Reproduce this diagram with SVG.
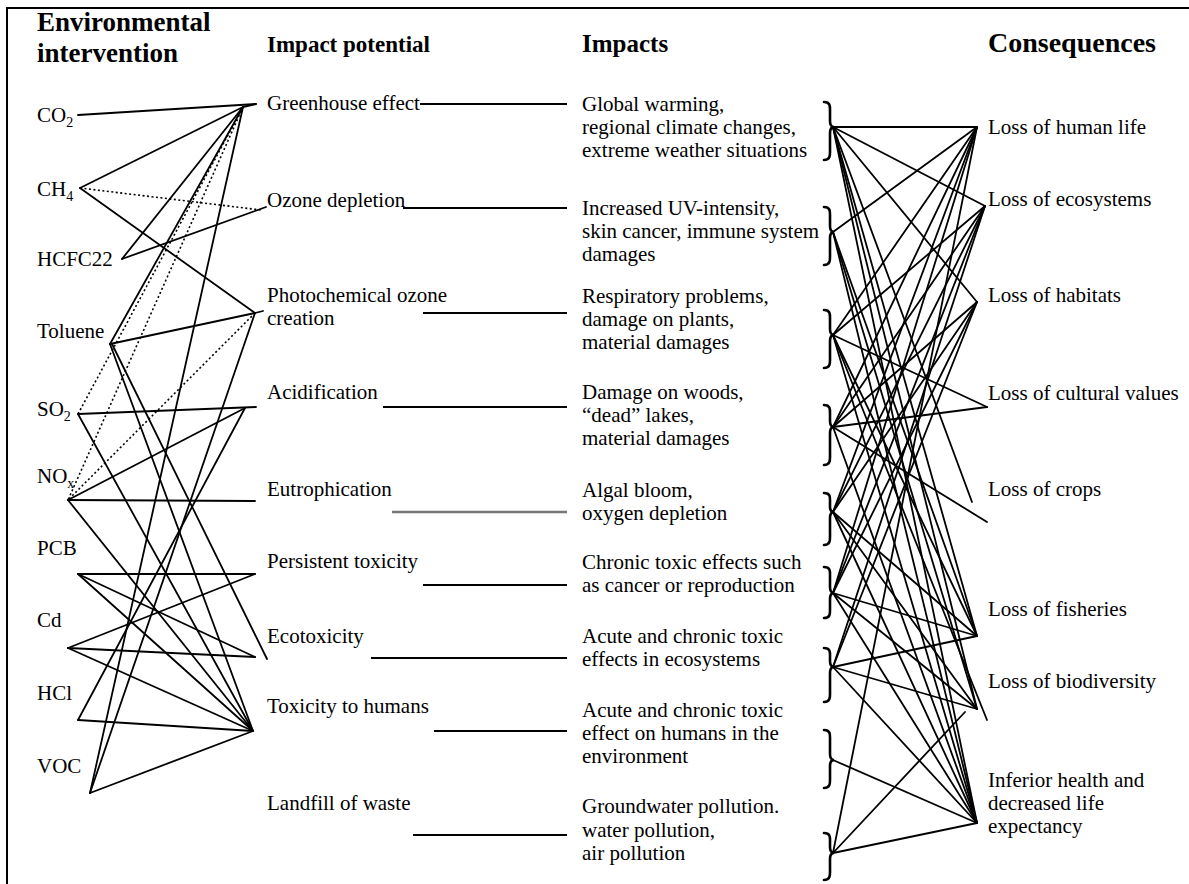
<svg xmlns="http://www.w3.org/2000/svg" width="1189" height="884" viewBox="0 0 1189 884">
  <style>
    text { font-family: "Liberation Serif", "Times New Roman", serif; font-size: 21px; fill: #000; }
    .hd { font-weight: bold; font-size: 23px; }
    .hd-big { font-size: 27px; }
    .sub { font-size: 14px; }
    .ln { stroke: #000; stroke-width: 1.8; fill: none; stroke-linecap: round; }
    .dot { stroke: #000; stroke-width: 1.6; fill: none; stroke-dasharray: 2 2.5; }
    .bar { stroke: #000; stroke-width: 2; fill: none; }
    .bar-grey { stroke: #777; stroke-width: 2.4; fill: none; }
    .brace { stroke: #000; stroke-width: 2.6; fill: none; stroke-linecap: round; }
  </style>
  <rect width="1189" height="884" fill="#fff"/>
  <!-- frame -->
  <path d="M7,884 V8 H1189" stroke="#000" stroke-width="2" fill="none"/>

  <!-- column headings -->
  <g id="headings">
    <text class="hd hd-big" x="37" y="31">Environmental</text>
    <text class="hd hd-big" x="37" y="62">intervention</text>
    <text class="hd" x="267" y="52">Impact potential</text>
    <text class="hd" x="582" y="52" style="font-size:25px">Impacts</text>
    <text class="hd" x="988" y="52" style="font-size:28px">Consequences</text>
  </g>

  <!-- environmental interventions -->
  <g id="interventions">
    <g id="n-co2"><text x="37" y="122">CO<tspan class="sub" dy="5">2</tspan></text></g>
    <g id="n-ch4"><text x="37" y="196">CH<tspan class="sub" dy="5">4</tspan></text></g>
    <g id="n-hcfc22"><text x="37" y="266">HCFC22</text></g>
    <g id="n-toluene"><text x="37" y="338">Toluene</text></g>
    <g id="n-so2"><text x="37" y="416">SO<tspan class="sub" dy="5">2</tspan></text></g>
    <g id="n-nox"><text x="37" y="483">NO<tspan class="sub" dy="5">x</tspan></text></g>
    <g id="n-pcb"><text x="37" y="555">PCB</text></g>
    <g id="n-cd"><text x="37" y="627">Cd</text></g>
    <g id="n-hcl"><text x="37" y="700">HCl</text></g>
    <g id="n-voc"><text x="37" y="773">VOC</text></g>
  </g>

  <!-- impact potentials -->
  <g id="potentials">
    <g id="p-greenhouse"><text x="267" y="110">Greenhouse effect</text></g>
    <g id="p-ozone"><text x="267" y="207">Ozone depletion</text></g>
    <g id="p-photochem"><text x="267" y="302">Photochemical ozone</text><text x="267" y="325">creation</text></g>
    <g id="p-acid"><text x="267" y="399">Acidification</text></g>
    <g id="p-eutro"><text x="267" y="496">Eutrophication</text></g>
    <g id="p-persist"><text x="267" y="568">Persistent toxicity</text></g>
    <g id="p-ecotox"><text x="267" y="643">Ecotoxicity</text></g>
    <g id="p-humantox"><text x="267" y="713">Toxicity to humans</text></g>
    <g id="p-landfill"><text x="267" y="810">Landfill of waste</text></g>
  </g>

  <!-- impacts -->
  <g id="impacts">
    <g id="i-warming"><text x="582" y="111">Global warming,</text><text x="582" y="134">regional climate changes,</text><text x="582" y="157">extreme weather situations</text></g>
    <g id="i-uv"><text x="582" y="215">Increased UV-intensity,</text><text x="582" y="238">skin cancer, immune system</text><text x="582" y="261">damages</text></g>
    <g id="i-resp"><text x="582" y="303">Respiratory problems,</text><text x="582" y="326">damage on plants,</text><text x="582" y="349">material damages</text></g>
    <g id="i-woods"><text x="582" y="399">Damage on woods,</text><text x="582" y="422">“dead” lakes,</text><text x="582" y="445">material damages</text></g>
    <g id="i-algal"><text x="582" y="497">Algal bloom,</text><text x="582" y="520">oxygen depletion</text></g>
    <g id="i-chronic"><text x="582" y="569">Chronic toxic effects such</text><text x="582" y="592">as cancer or reproduction</text></g>
    <g id="i-eco"><text x="582" y="643">Acute and chronic toxic</text><text x="582" y="666">effects in ecosystems</text></g>
    <g id="i-human"><text x="582" y="717">Acute and chronic toxic</text><text x="582" y="740">effect on humans in the</text><text x="582" y="763">environment</text></g>
    <g id="i-water"><text x="582" y="813">Groundwater pollution.</text><text x="582" y="837">water pollution,</text><text x="582" y="860">air pollution</text></g>
  </g>

  <!-- consequences -->
  <g id="consequences">
    <g id="c-life"><text x="988" y="134">Loss of human life</text></g>
    <g id="c-eco"><text x="988" y="206">Loss of ecosystems</text></g>
    <g id="c-habitat"><text x="988" y="302">Loss of habitats</text></g>
    <g id="c-culture"><text x="988" y="400">Loss of cultural values</text></g>
    <g id="c-crops"><text x="988" y="496">Loss of crops</text></g>
    <g id="c-fish"><text x="988" y="616">Loss of fisheries</text></g>
    <g id="c-biodiv"><text x="988" y="688">Loss of biodiversity</text></g>
    <g id="c-health"><text x="988" y="787">Inferior health and</text><text x="988" y="810">decreased life</text><text x="988" y="833">expectancy</text></g>
  </g>

  <!-- braces grouping each impact -->
  <g id="braces" class="brace">
    <path d="M824,102 C831,102 830,107 830,113 L830,121 C830,125 831,127 834,127 C831,127 830,129 830,133 L830,148 C830,154 831,160 824,160"/>
    <path d="M824,207 C831,207 830,212 830,218 L830,226 C830,230 831,232 834,232 C831,232 830,234 830,238 L830,253 C830,259 831,265 824,265"/>
    <path d="M824,310 C831,310 830,315 830,321 L830,329 C830,333 831,335 834,335 C831,335 830,337 830,341 L830,356 C830,362 831,368 824,368"/>
    <path d="M824,405 C831,405 830,410 830,416 L830,421 C830,425 831,427 834,427 C831,427 830,429 830,433 L830,453 C830,459 831,465 824,465"/>
    <path d="M824,493 C831,493 830,498 830,503 L830,507 C830,510 831,512 834,512 C831,512 830,514 830,518 L830,533 C830,539 831,545 824,545"/>
    <path d="M824,567 C831,567 830,572 830,577 L830,587 C830,591 831,593 834,593 C831,593 830,595 830,599 L830,607 C830,613 831,618 824,618"/>
    <path d="M824,648 C831,648 830,653 830,658 L830,661 C830,665 831,667 834,667 C831,667 830,669 830,673 L830,690 C830,696 831,702 824,702"/>
    <path d="M824,730 C831,730 830,735 830,741 L830,754 C830,758 831,760 834,760 C831,760 830,762 830,766 L830,776 C830,782 831,788 824,788"/>
    <path d="M824,833 C831,833 830,838 830,843 L830,847 C830,851 831,853 834,853 C831,853 830,855 830,859 L830,868 C830,874 831,880 824,880"/>
  </g>

  <g id="connectors">
    <!-- interventions to impact potentials -->
    <g class="ln">
      <path d="M78,115 L256,104"/>
      <path d="M243,107 L256,104"/>
      <path d="M80,188 L243,107"/>
      <path d="M80,188 L255,313"/>
      <path d="M122,259 L243,107"/>
      <path d="M122,259 L266,207"/>
      <path d="M110,344 L243,107"/>
      <path d="M110,344 L255,313"/>
      <path d="M255,313 L263,311"/>
      <path d="M110,344 L253,731"/>
      <path d="M112,344 L267,659"/>
      <path d="M78,414 L256,407"/>
      <path d="M78,414 L253,731"/>
      <path d="M68,500 L255,501"/>
      <path d="M68,500 L245,408"/>
      <path d="M68,500 L253,731"/>
      <path d="M78,574 L255,574"/>
      <path d="M78,574 L255,657"/>
      <path d="M78,574 L253,731"/>
      <path d="M68,648 L255,574"/>
      <path d="M68,648 L255,657"/>
      <path d="M68,648 L253,731"/>
      <path d="M78,720 L245,408"/>
      <path d="M78,720 L253,731"/>
      <path d="M90,793 L243,107"/>
      <path d="M90,793 L255,313"/>
      <path d="M90,793 L253,731"/>
    </g>
    <g class="dot">
      <path d="M80,188 L261,210"/>
      <path d="M243,107 L78,414"/>
      <path d="M243,107 L68,500"/>
      <path d="M255,313 L68,500"/>
    </g>

    <!-- impact potentials to impacts -->
    <path class="bar" d="M420,104 H567"/>
    <path class="bar" d="M403,208 H567"/>
    <path class="bar" d="M423,313 H567"/>
    <path class="bar" d="M383,407 H567"/>
    <path class="bar-grey" d="M392,512 H567"/>
    <path class="bar" d="M423,585 H567"/>
    <path class="bar" d="M371,658 H567"/>
    <path class="bar" d="M434,731 H567"/>
    <path class="bar" d="M413,835 H567"/>

    <!-- impacts to consequences -->
    <g class="ln">
      <path d="M833,127 L977,127"/>
      <path d="M833,127 L985,206"/>
      <path d="M833,127 L977,302"/>
      <path d="M833,127 L972,502"/>
      <path d="M833,127 L977,636"/>
      <path d="M833,127 L977,709"/>
      <path d="M833,127 L977,823"/>

      <path d="M833,232 L977,127"/>
      <path d="M833,232 L977,636"/>
      <path d="M833,232 L977,709"/>
      <path d="M833,232 L977,823"/>

      <path d="M833,335 L977,127"/>
      <path d="M833,335 L985,206"/>
      <path d="M833,335 L987,407"/>
      <path d="M833,335 L977,636"/>
      <path d="M833,335 L987,720"/>
      <path d="M833,335 L977,823"/>

      <path d="M833,427 L977,127"/>
      <path d="M833,427 L985,206"/>
      <path d="M833,427 L977,302"/>
      <path d="M833,427 L987,407"/>
      <path d="M833,427 L987,522"/>
      <path d="M833,427 L977,823"/>

      <path d="M833,512 L977,127"/>
      <path d="M833,512 L985,206"/>
      <path d="M833,512 L977,302"/>
      <path d="M833,512 L977,636"/>
      <path d="M833,512 L977,709"/>
      <path d="M833,512 L977,823"/>

      <path d="M833,593 L977,127"/>
      <path d="M833,593 L985,206"/>
      <path d="M833,593 L977,302"/>
      <path d="M833,593 L977,636"/>
      <path d="M833,593 L977,709"/>
      <path d="M833,593 L977,823"/>

      <path d="M833,667 L985,206"/>
      <path d="M833,667 L977,302"/>
      <path d="M833,667 L977,636"/>
      <path d="M833,667 L977,709"/>
      <path d="M833,667 L977,823"/>

      <path d="M833,760 L977,823"/>

      <path d="M833,853 L977,127"/>
      <path d="M833,853 L965,712"/>
      <path d="M833,853 L977,823"/>
    </g>
  </g>
</svg>
